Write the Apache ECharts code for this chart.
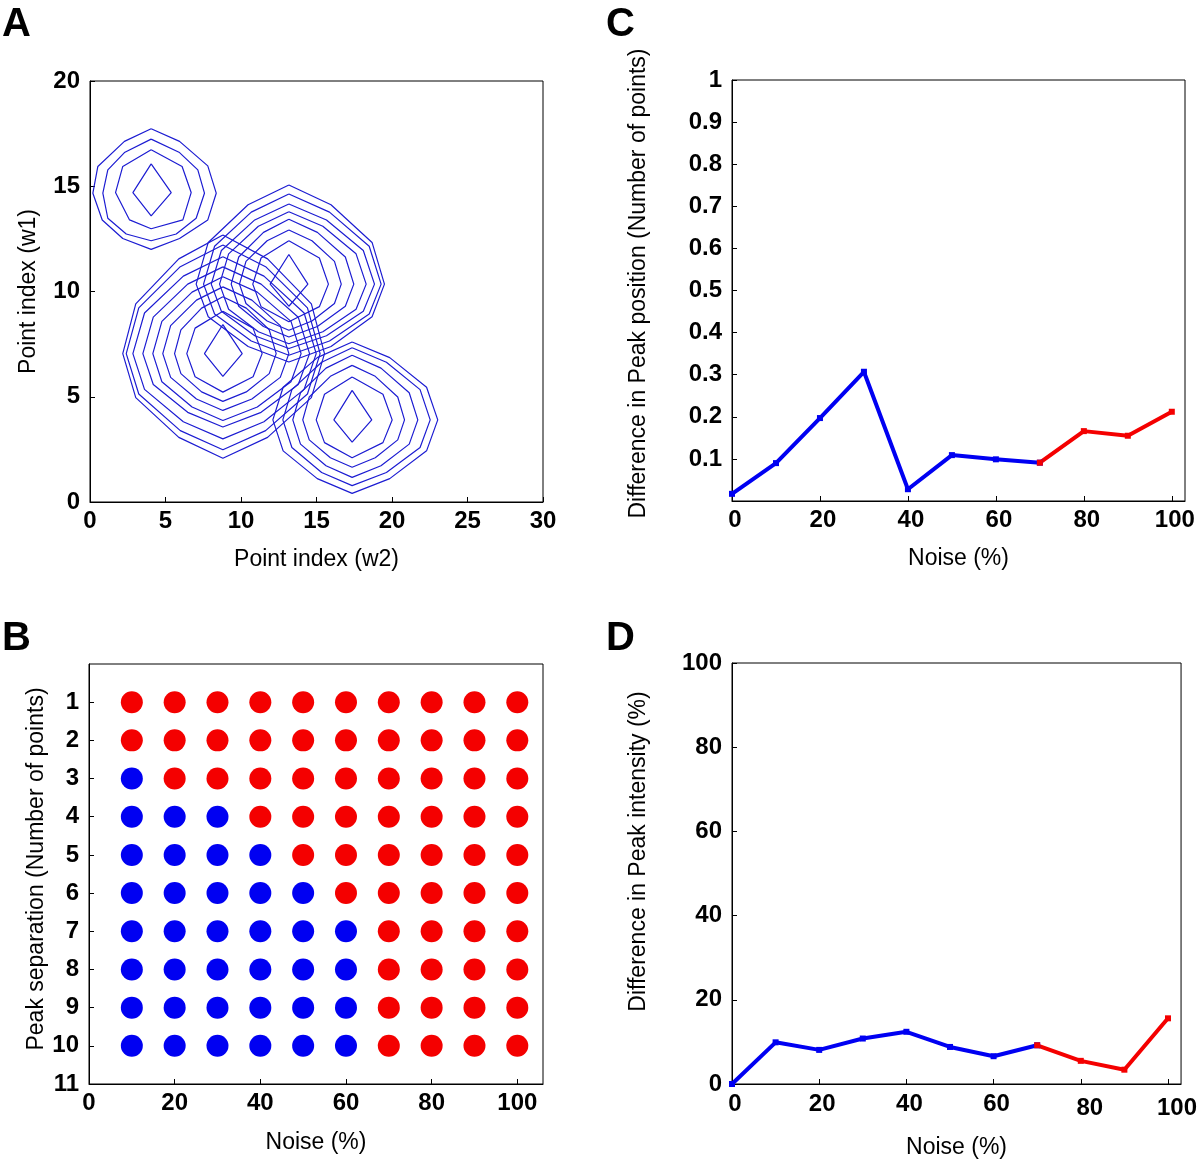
<!DOCTYPE html>
<html><head><meta charset="utf-8">
<script src="https://cdn.jsdelivr.net/npm/echarts@6/dist/echarts.min.js"></script>
<style>html,body{margin:0;padding:0;background:#fff}#c{width:1200px;height:1161px}</style>
</head><body><div id="c"></div>
<script>
// ---------- Panel A: contour polygons (data units: x = w2 index, y = w1 index) ----------
const peak1Contours = [
  [[4.05,16.06],[5.38,14.70],[4.05,13.59],[2.84,14.70]],
  [[4.05,16.73],[6.10,15.94],[6.70,14.70],[6.15,13.40],[4.05,12.98],[2.62,13.40],[1.69,14.70],[2.17,15.94]],
  [[4.05,17.24],[5.93,16.60],[7.14,15.78],[7.58,14.67],[7.03,13.48],[5.71,12.73],[4.05,12.41],[2.40,12.73],[1.18,13.48],[0.85,14.67],[1.18,15.78],[2.28,16.60]],
  [[4.05,17.73],[5.93,17.13],[7.80,15.97],[8.36,14.67],[7.80,13.40],[5.93,12.52],[4.05,12.00],[2.17,12.52],[0.81,13.40],[0.19,14.67],[0.52,15.94],[2.28,17.13]]
];
const peak2Contours = [
  [[8.80,8.43],[10.08,7.05],[8.80,5.97],[7.58,7.05]],
  [[8.80,9.06],[10.80,8.26],[11.40,7.05],[10.80,5.95],[8.80,5.22],[6.96,5.95],[6.41,7.05],[6.96,8.26]],
  [[8.80,9.75],[10.35,9.21],[11.87,8.18],[12.33,7.05],[11.87,6.10],[10.35,5.23],[8.80,4.78],[7.39,5.23],[6.02,6.10],[5.60,7.05],[6.02,8.18],[7.39,9.21]],
  [[8.80,10.22],[10.72,9.59],[12.60,8.38],[13.17,7.05],[12.60,5.92],[10.72,4.89],[8.80,4.35],[7.05,4.89],[5.34,5.92],[4.82,7.05],[5.34,8.38],[7.05,9.59]],
  [[8.80,10.70],[11.08,9.97],[13.31,8.58],[13.98,7.05],[13.31,5.71],[11.08,4.51],[8.80,3.87],[6.76,4.51],[4.76,5.71],[4.16,7.05],[4.76,8.58],[6.76,9.97]],
  [[8.80,11.17],[11.33,10.35],[13.79,8.78],[14.54,7.05],[13.79,5.58],[11.33,4.26],[8.80,3.56],[6.47,4.26],[4.19,5.58],[3.50,7.05],[4.19,8.78],[6.47,10.35]],
  [[8.80,11.65],[11.52,10.73],[14.18,8.98],[14.98,7.05],[14.18,5.35],[11.52,3.81],[8.80,3.00],[6.18,3.81],[3.61,5.35],[2.84,7.05],[3.61,8.98],[6.18,10.73]],
  [[8.80,12.21],[11.63,11.18],[14.40,9.22],[15.24,7.05],[14.40,5.13],[11.63,3.39],[8.80,2.48],[5.98,3.39],[3.23,5.13],[2.40,7.05],[3.23,9.22],[5.98,11.18]],
  [[8.80,12.68],[11.76,11.55],[14.66,9.41],[15.53,7.05],[14.66,4.96],[11.76,3.07],[8.80,2.08],[5.88,3.07],[3.03,4.96],[2.17,7.05],[3.03,9.41],[5.88,11.55]]
];
const peak3Contours = [
  [[13.17,11.76],[14.43,10.35],[13.17,9.30],[11.93,10.35]],
  [[13.17,12.41],[15.19,11.59],[15.79,10.35],[15.19,9.28],[13.17,8.56],[11.33,9.28],[10.78,10.35],[11.33,11.59]],
  [[13.17,12.92],[14.70,12.41],[16.19,11.43],[16.64,10.35],[16.19,9.43],[14.70,8.60],[13.17,8.16],[11.73,8.60],[10.33,9.43],[9.90,10.35],[10.33,11.43],[11.73,12.41]],
  [[13.17,13.43],[15.06,12.81],[16.91,11.64],[17.47,10.35],[16.91,9.30],[15.06,8.34],[13.17,7.84],[11.49,8.34],[9.85,9.30],[9.35,10.35],[9.85,11.64],[11.49,12.81]],
  [[13.17,13.79],[15.42,13.10],[17.62,11.79],[18.29,10.35],[17.62,9.16],[15.42,8.09],[13.17,7.52],[11.15,8.09],[9.18,9.16],[8.58,10.35],[9.18,11.79],[11.15,13.10]],
  [[13.17,14.16],[15.66,13.40],[18.10,11.95],[18.84,10.35],[18.10,9.06],[15.66,7.90],[13.17,7.29],[10.91,7.90],[8.70,9.06],[8.03,10.35],[8.70,11.95],[10.91,13.40]],
  [[13.17,14.63],[15.86,13.77],[18.49,12.15],[19.28,10.35],[18.49,8.93],[15.86,7.65],[13.17,6.97],[10.68,7.65],[8.25,8.93],[7.52,10.35],[8.25,12.15],[10.68,13.77]],
  [[13.17,15.06],[15.96,14.12],[18.68,12.33],[19.50,10.35],[18.68,8.80],[15.96,7.39],[13.17,6.65],[10.47,7.39],[7.83,8.80],[7.03,10.35],[7.83,12.33],[10.47,14.12]]
];
const peak4Contours = [
  [[17.36,5.30],[18.66,3.90],[17.36,2.84],[16.15,3.90]],
  [[17.36,5.94],[19.40,5.12],[20.01,3.90],[19.40,2.82],[17.36,2.10],[15.53,2.82],[14.98,3.90],[15.53,5.12]],
  [[17.36,6.49],[18.89,5.97],[20.38,4.99],[20.83,3.90],[20.38,2.95],[18.89,2.10],[17.36,1.65],[15.92,2.10],[14.52,2.95],[14.09,3.90],[14.52,4.99],[15.92,5.97]],
  [[17.36,6.97],[19.27,6.36],[21.14,5.19],[21.71,3.90],[21.14,2.75],[19.27,1.72],[17.36,1.17],[15.63,1.72],[13.94,2.75],[13.43,3.90],[13.94,5.19],[15.63,6.36]],
  [[17.36,7.33],[19.63,6.64],[21.86,5.34],[22.53,3.90],[21.86,2.59],[19.63,1.40],[17.36,0.78],[15.34,1.40],[13.37,2.59],[12.77,3.90],[13.37,5.34],[15.34,6.64]],
  [[17.36,7.60],[19.85,6.86],[22.29,5.45],[23.03,3.90],[22.29,2.43],[19.85,1.11],[17.36,0.41],[15.05,1.11],[12.79,2.43],[12.11,3.90],[12.79,5.45],[15.05,6.86]]
];

// ---------- Panel B: resolved (1 = blue) / unresolved (0 = red) ----------
const noiseB = [10,20,30,40,50,60,70,80,90,100];
const separations = [1,2,3,4,5,6,7,8,9,10];
const resolvedGrid = [
  [0,0,0,0,0,0,0,0,0,0],
  [0,0,0,0,0,0,0,0,0,0],
  [1,0,0,0,0,0,0,0,0,0],
  [1,1,1,0,0,0,0,0,0,0],
  [1,1,1,1,0,0,0,0,0,0],
  [1,1,1,1,1,0,0,0,0,0],
  [1,1,1,1,1,1,0,0,0,0],
  [1,1,1,1,1,1,0,0,0,0],
  [1,1,1,1,1,1,0,0,0,0],
  [1,1,1,1,1,1,0,0,0,0]
];

// ---------- Panels C and D ----------
const noiseCD = [0,10,20,30,40,50,60,70,80,90,100];
const posDiff = [0.017,0.090,0.197,0.307,0.028,0.109,0.099,0.091,0.166,0.155,0.212];
const intDiff = [0.0,9.9,8.1,10.8,12.4,8.8,6.6,9.2,5.5,3.4,15.6];
const redFromNoise = 70;

const FONT = '"Liberation Sans", Arial, Helvetica, sans-serif';
const BLUE = '#0000f2', RED = '#f40000', CONTOUR = '#1c1cd2';
const TICK_FS = 24, TITLE_FS = 23;

function lbl(extra) {
  return Object.assign({ fontSize: TICK_FS, fontWeight: 'bold', fontFamily: FONT, color: '#000' }, extra || {});
}

function axis(gridIndex, o) {
  return {
    type: 'value', gridIndex: gridIndex,
    min: o.min, max: o.max, interval: o.interval, inverse: !!o.inverse,
    name: o.name, nameLocation: 'middle', nameGap: o.nameGap,
    nameTextStyle: { color: '#000', fontSize: TITLE_FS, fontFamily: FONT, padding: o.namePad || 0 },
    axisLine: { show: true, onZero: false, lineStyle: { color: '#000', width: 1 } },
    axisTick: { show: true, inside: true, length: 5, lineStyle: { color: '#000' } },
    splitLine: { show: false },
    axisLabel: { color: '#000', fontSize: TICK_FS, fontWeight: 'bold', fontFamily: FONT,
      margin: o.margin == null ? 10 : o.margin, formatter: o.formatter, rich: o.rich,
      showMinLabel: o.showMin !== false, showMaxLabel: o.showMax !== false }
  };
}

const grids = [
  { left: 90, top: 81, width: 453, height: 421 },
  { left: 89, top: 664, width: 454, height: 420 },
  { left: 732, top: 80, width: 453, height: 421 },
  { left: 732, top: 663, width: 453, height: 421 }
].map(g => Object.assign({ show: true, borderColor: '#000', borderWidth: 1, backgroundColor: 'transparent', containLabel: false }, g));

const series = [];
[peak1Contours, peak2Contours, peak3Contours, peak4Contours].forEach(pk => {
  pk.forEach(poly => {
    series.push({ type: 'line', xAxisIndex: 0, yAxisIndex: 0, data: poly.concat([poly[0]]),
      showSymbol: false, symbol: 'none', silent: true, animation: false,
      lineStyle: { color: CONTOUR, width: 1.2 } });
  });
});

const bBlue = [], bRed = [];
separations.forEach((s, i) => noiseB.forEach((n, j) => {
  (resolvedGrid[i][j] ? bBlue : bRed).push([n, s]);
}));
series.push({ type: 'scatter', xAxisIndex: 1, yAxisIndex: 1, data: bBlue, symbolSize: 22, itemStyle: { color: BLUE, opacity: 1 }, animation: false });
series.push({ type: 'scatter', xAxisIndex: 1, yAxisIndex: 1, data: bRed, symbolSize: 22, itemStyle: { color: RED, opacity: 1 }, animation: false });

function splitLine(vals, xi, yi) {
  const blue = [], red = [];
  noiseCD.forEach((n, i) => {
    if (n <= redFromNoise) blue.push([n, vals[i]]);
    if (n >= redFromNoise) red.push([n, vals[i]]);
  });
  [[blue, BLUE], [red, RED]].forEach(([d, c]) => series.push({
    type: 'line', xAxisIndex: xi, yAxisIndex: yi, data: d, symbol: 'rect', symbolSize: 6, showSymbol: true,
    lineStyle: { color: c, width: 4 }, itemStyle: { color: c, borderWidth: 0, opacity: 1 }, animation: false, z: 3
  }));
}
splitLine(posDiff, 2, 2);
splitLine(intDiff, 3, 3);

const noiseFmtC = v => (v % 20 === 0 ? '{n|' + v + '}' : '');
const noiseFmtD = v => (v % 20 !== 0 ? '' : (v >= 80 ? '{s|' + v + '}' : '{n|' + v + '}'));

const option = {
  backgroundColor: '#fff',
  animation: false,
  grid: grids,
  xAxis: [
    axis(0, { min: 0, max: 30, interval: 5, name: 'Point index (w2)', nameGap: 46, margin: 7 }),
    axis(1, { min: 0, max: 106, interval: 20, name: 'Noise (%)', nameGap: 47, margin: 7, showMax: false,
      formatter: v => (v % 20 === 0 ? String(v) : '') }),
    axis(2, { min: 0, max: 103, interval: 20, name: 'Noise (%)', nameGap: 46, margin: 7, showMax: false,
      formatter: noiseFmtC, rich: { n: lbl({ padding: [0, 0, 0, 6] }) } }),
    axis(3, { min: 0, max: 103, interval: 20, name: 'Noise (%)', nameGap: 52, margin: 8, showMax: false,
      formatter: noiseFmtD, rich: { n: lbl({ padding: [0, 0, 0, 6] }), s: lbl({ padding: [4, 0, 0, 18] }) } })
  ],
  yAxis: [
    axis(0, { min: 0, max: 20, interval: 5, name: 'Point index (w1)', nameGap: 50 }),
    axis(1, { min: 0, max: 11, interval: 1, inverse: true, name: 'Peak separation (Number of points)', nameGap: 40,
      namePad: [0, 0, 0, 10], showMin: false, formatter: v => (v === 0 ? '' : String(v)) }),
    axis(2, { min: 0, max: 1, interval: 0.1, name: 'Difference in Peak position (Number of points)', nameGap: 82,
      namePad: [0, 0, 0, 14], showMin: false, formatter: v => (v === 0 ? '' : String(Math.round(v * 10) / 10)) }),
    axis(3, { min: 0, max: 100, interval: 20, name: 'Difference in Peak intensity (%)', nameGap: 82,
      namePad: [0, 0, 0, 44] })
  ],
  graphic: [
    { type: 'text', left: 2, top: 5, style: { text: 'A', font: 'bold 40px ' + FONT, fill: '#000' } },
    { type: 'text', left: 2, top: 619, style: { text: 'B', font: 'bold 40px ' + FONT, fill: '#000' } },
    { type: 'text', left: 606, top: 5, style: { text: 'C', font: 'bold 40px ' + FONT, fill: '#000' } },
    { type: 'text', left: 606, top: 619, style: { text: 'D', font: 'bold 40px ' + FONT, fill: '#000' } }
  ],
  series: series
};

const chart = echarts.init(document.getElementById('c'), null, { renderer: 'canvas' });
chart.setOption(option);
</script>
</body></html>
